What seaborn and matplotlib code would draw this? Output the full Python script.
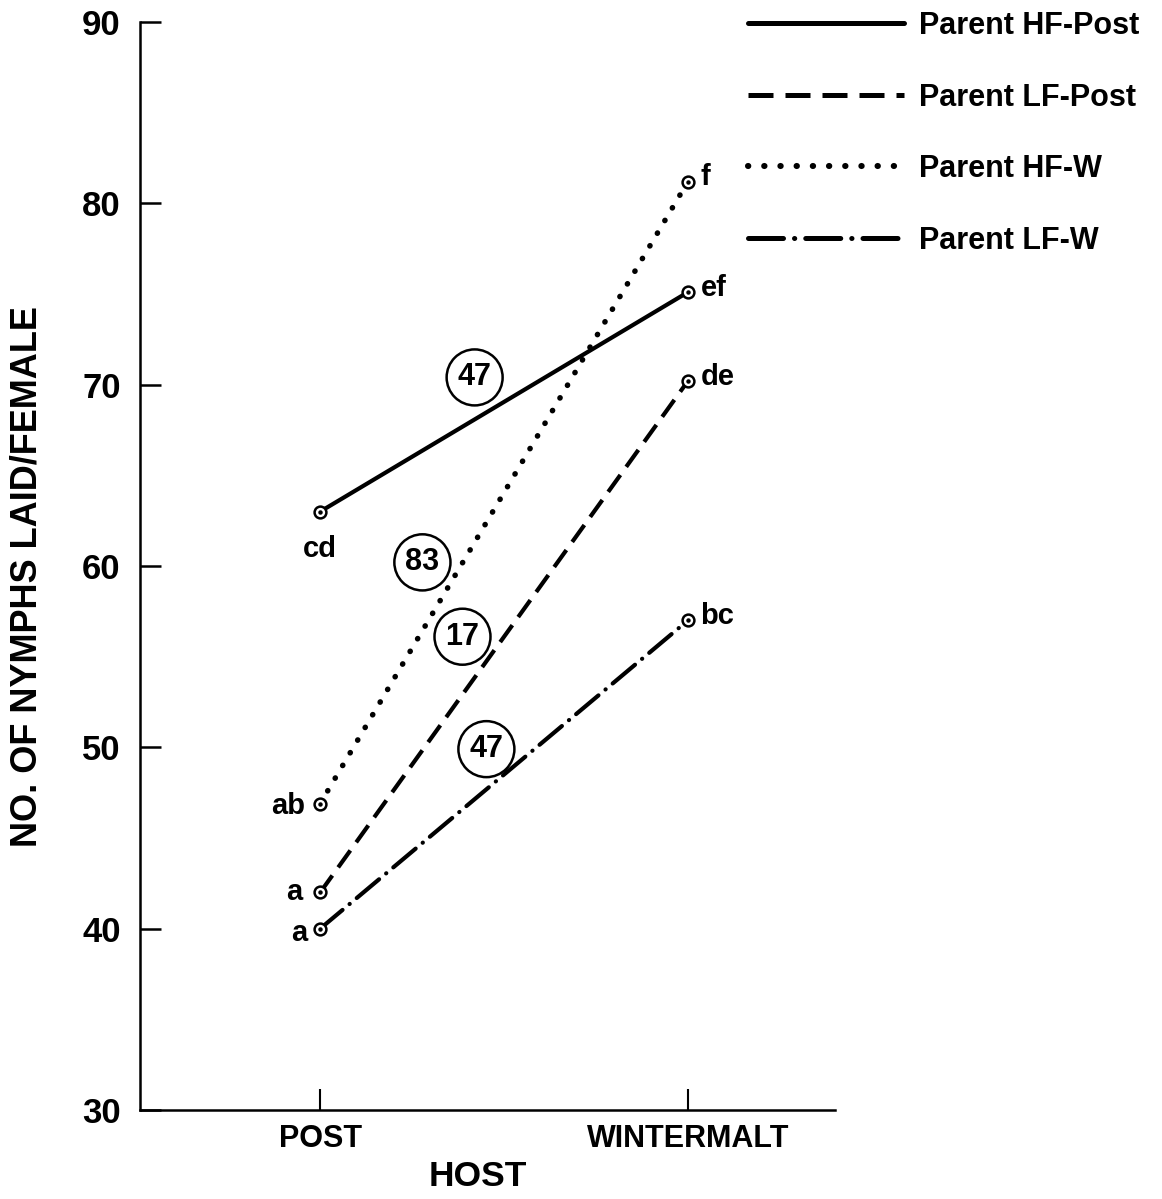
import matplotlib
matplotlib.use("Agg")
import matplotlib.pyplot as plt
import seaborn as sns
import pandas as pd

hosts = ["POST", "WINTERMALT"]
series_names = ["Parent HF-Post", "Parent LF-Post", "Parent HF-W", "Parent LF-W"]
hf_post = [63.0, 75.1]
lf_post = [42.0, 70.2]
hf_w = [46.9, 81.2]
lf_w = [40.0, 57.0]
letters_post = ["cd", "a", "ab", "a"]
letters_wm = ["ef", "de", "f", "bc"]
circle_labels = ["47", "17", "83", "47"]
circle_x = [0.42, 0.387, 0.278, 0.452]
circle_y = [70.4, 56.1, 60.2, 49.9]
yticks = [30, 40, 50, 60, 70, 80, 90]

values = [hf_post, lf_post, hf_w, lf_w]
rows = []
for name, vals in zip(series_names, values):
    for i, h in enumerate(hosts):
        rows.append({"series": name, "pos": i, "host": h, "value": vals[i]})
df = pd.DataFrame(rows)

sns.set_theme(style="ticks")
plt.rcParams["font.family"] = ["Liberation Sans", "DejaVu Sans"]
plt.rcParams["font.weight"] = "bold"
for k in ["text.color", "axes.labelcolor", "xtick.color", "ytick.color", "axes.edgecolor"]:
    plt.rcParams[k] = "black"

fig = plt.figure(figsize=(11.62, 11.99), dpi=100)
ax = fig.add_axes([140/1162, 1 - 1110/1199, 695/1162, 1088/1199])

styles = {
    "Parent HF-Post": dict(linestyle="-", lw=3.0),
    "Parent LF-Post": dict(linestyle=(0, (5.0, 2.4)), lw=3.0),
    "Parent HF-W": dict(linestyle=(0, (0.05, 2.6)), lw=4.0, dash_capstyle="round"),
    "Parent LF-W": dict(linestyle=(0, (7.0, 2.2, 0.05, 2.2)), lw=3.0, dash_capstyle="round"),
}

handles = []
for name in series_names:
    sub = df[df["series"] == name]
    st = styles[name]
    sns.lineplot(data=sub, x="pos", y="value", ax=ax, color="black",
                 linestyle=st["linestyle"], lw=st["lw"], legend=False,
                 dash_capstyle=st.get("dash_capstyle", "butt"),
                 solid_capstyle="round", zorder=2)
    line = ax.lines[-1]
    line.set_label(name)
    handles.append(line)
    ax.plot(sub["pos"], sub["value"], linestyle="none", marker="o",
            markersize=8.5, markerfacecolor="white", markeredgecolor="black",
            markeredgewidth=1.8, zorder=3)
    ax.plot(sub["pos"], sub["value"], linestyle="none", marker="o",
            markersize=2.2, color="black", zorder=4)

# significance letters
lab_kw = dict(fontsize=21, fontweight="bold", color="black")
post_off = [(0, -27, "center", "center"), (-13, 0, "right", "center"),
            (-11, -2, "right", "center"), (-9, -3, "right", "center")]
for vals, lt, off in zip(values, letters_post, post_off):
    ax.annotate(lt, (0, vals[0]), xytext=(off[0], off[1]), textcoords="offset points",
                ha=off[2], va=off[3], **lab_kw)
for vals, lt in zip(values, letters_wm):
    ax.annotate(lt, (1, vals[1]), xytext=(9, 3), textcoords="offset points",
                ha="left", va="center", **lab_kw)

for lbl, cx, cy in zip(circle_labels, circle_x, circle_y):
    ax.text(cx, cy, lbl, ha="center", va="center", fontsize=22, fontweight="bold",
            color="black",
            bbox=dict(boxstyle="circle,pad=0.36", fc="white", ec="black", lw=1.8),
            zorder=5)

ax.set_xlim(-0.49, 1.40)
ax.set_ylim(30, 90)
ax.set_xticks([0, 1])
ax.set_xticklabels(hosts)
ax.set_yticks(yticks)
ax.set_yticklabels([str(v) for v in yticks])
for s in ["top", "right"]:
    ax.spines[s].set_visible(False)
for s in ["left", "bottom"]:
    ax.spines[s].set_linewidth(1.8)
    ax.spines[s].set_color("black")
ax.tick_params(axis="y", direction="in", length=15, width=1.8, pad=14,
               labelsize=25, colors="black")
ax.tick_params(axis="x", direction="in", length=15, width=1.5, pad=10,
               labelsize=22, colors="black")
for t in ax.get_xticklabels() + ax.get_yticklabels():
    t.set_fontweight("bold")

ax.set_xlabel("HOST", fontsize=25.5, fontweight="bold", color="black")
ax.set_ylabel("NO. OF NYMPHS LAID/FEMALE", fontsize=26, fontweight="bold", color="black")
ax.xaxis.set_label_coords(0.486, -0.046)
ax.yaxis.set_label_coords(-0.137, 0.49)

leg = fig.legend(handles=handles, labels=series_names, loc="upper left",
                 bbox_to_anchor=(748/1162, 1 - 11/1199), frameon=False,
                 handlelength=5.1, handletextpad=0.5,
                 labelspacing=1.36, borderaxespad=0, borderpad=0,
                 prop={"weight": "bold", "size": 22})
for t in leg.get_texts():
    t.set_color("black")
for ln, w in zip(leg.get_lines(), [3.6, 3.6, 4.4, 3.6]):
    ln.set_linewidth(w)

fig.savefig("out.png", dpi=100)
